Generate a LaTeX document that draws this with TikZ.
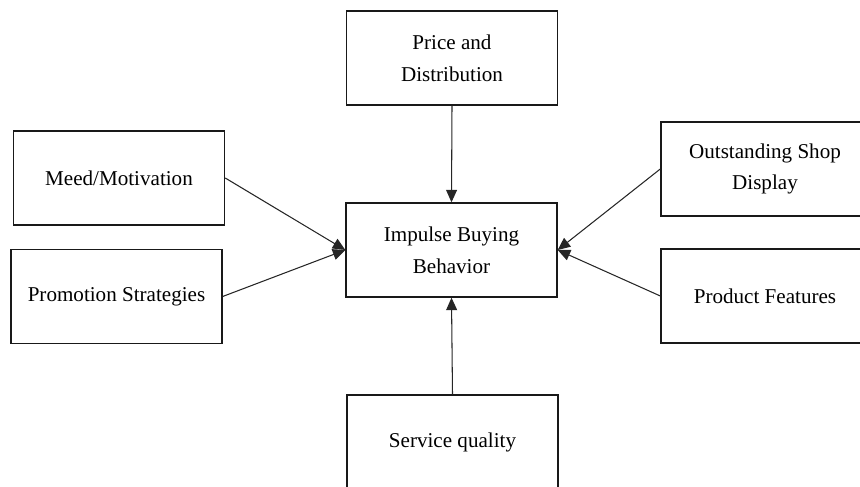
\documentclass[tikz,border=0pt]{standalone}
\usepackage{fontspec}
\setmainfont{Liberation Serif}
\usepackage{tikz}
\usetikzlibrary{arrows.meta}

\begin{document}
\begin{tikzpicture}[
  font=\fontsize{12}{18}\selectfont,
  factor/.style={draw=black!90, line width=0.8pt, align=center, inner sep=2pt,
                 minimum width=#1, minimum height=18.8mm},
  factor/.default=42.2mm,
  arr/.style={-{Triangle[length=2.5mm, width=2.2mm]}, black!85, line width=0.6pt}]
\useasboundingbox (0,0) rectangle (17.2,9.74);
\node[factor] (price)  at (9.04, 8.58) {Price and\\Distribution};
\node[factor] (meed)   at (2.38, 6.18) {Meed/Motivation};
\node[factor] (promo)  at (2.33, 3.81) {Promotion Strategies};
\node[factor] (ibb)    at (9.03, 4.74) {Impulse Buying\\Behavior};
\node[factor=41.6mm] (shop) at (15.3, 6.36) {Outstanding Shop\\Display};
\node[factor=41.6mm] (feat) at (15.3, 3.82) {Product Features};
\node[factor] (serv)   at (9.05, 0.90) {Service quality};
\draw[arr] (price.south) -- (ibb.north);
\draw[arr] (serv.north) -- (ibb.south);
\draw[arr] (meed.east) -- (ibb.west);
\draw[arr] (promo.east) -- (ibb.west);
\draw[arr] (shop.west) -- (ibb.east);
\draw[arr] (feat.west) -- (ibb.east);
\end{tikzpicture}
\end{document}
